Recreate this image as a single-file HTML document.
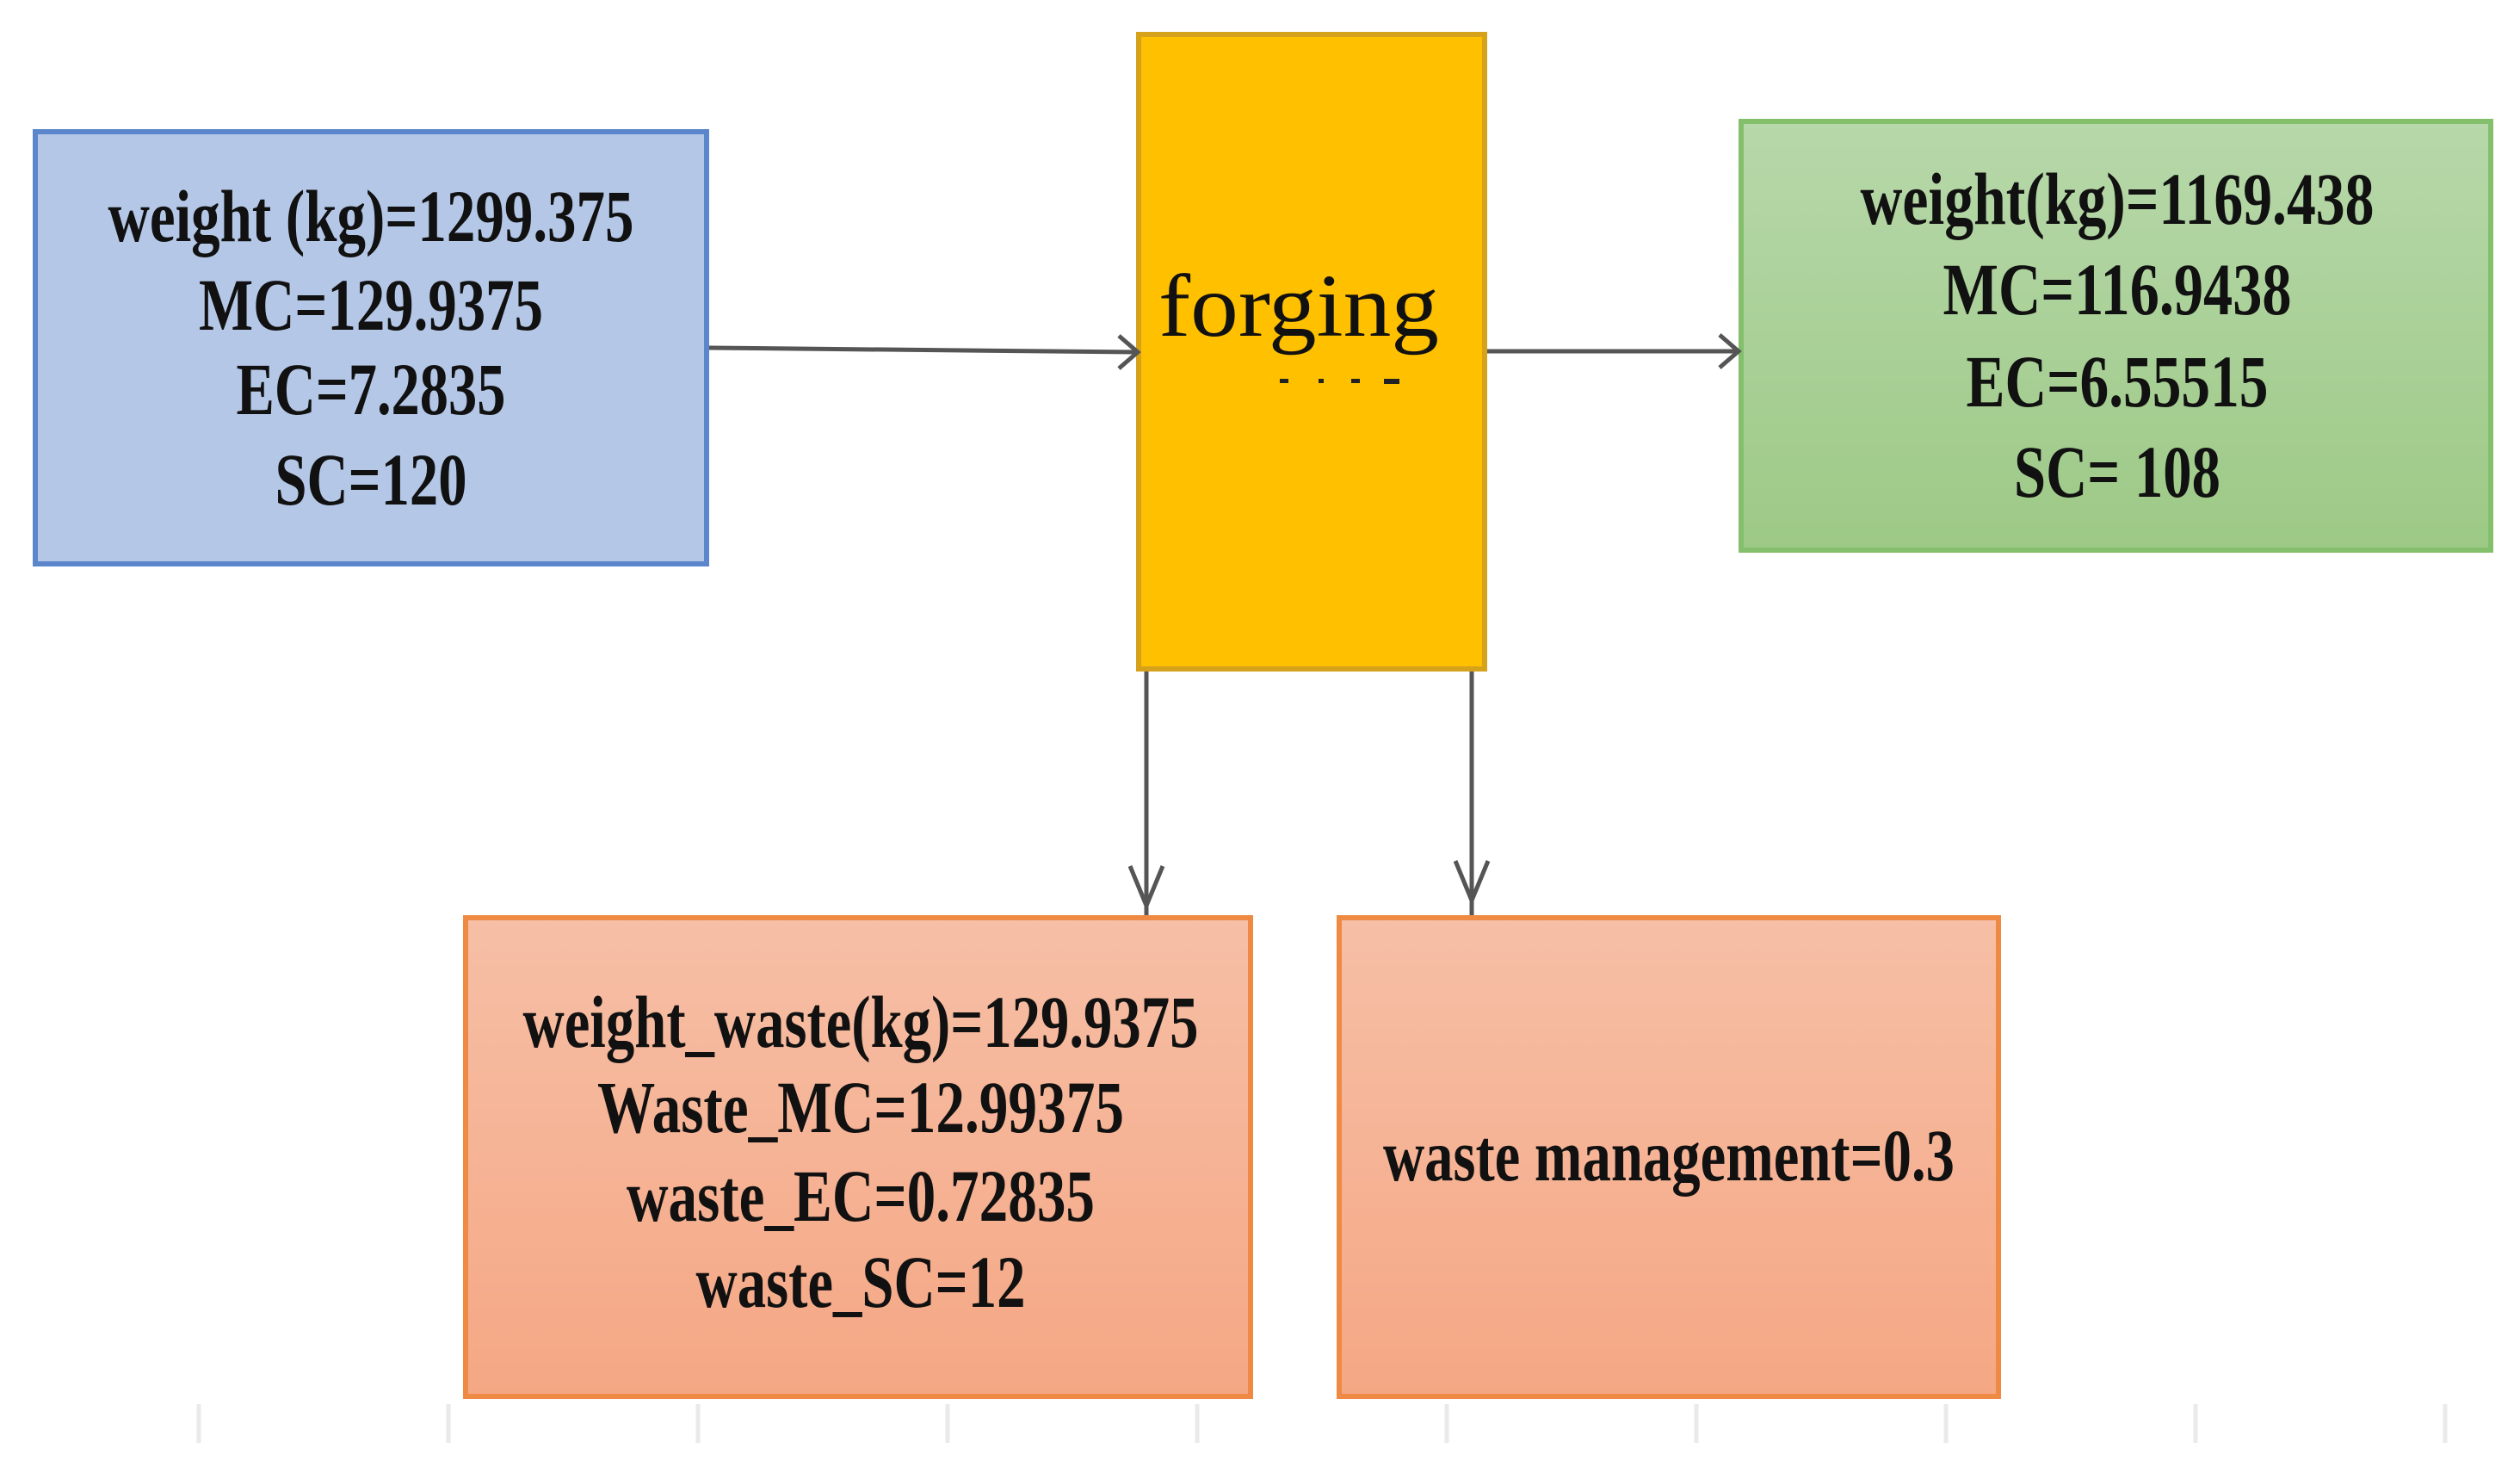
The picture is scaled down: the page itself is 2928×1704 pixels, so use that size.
<!DOCTYPE html>
<html><head><meta charset="utf-8"><style>
html,body{margin:0;padding:0;background:#fff;}
svg{display:block}
</style></head><body>
<svg width="2928" height="1704" viewBox="0 0 2928 1704" xmlns="http://www.w3.org/2000/svg">
<defs>
<linearGradient id="g" x1="0" y1="0" x2="0" y2="1"><stop offset="0" stop-color="#b7d8aa"/><stop offset="1" stop-color="#9dc986"/></linearGradient>
<linearGradient id="s" x1="0" y1="0" x2="0" y2="1"><stop offset="0" stop-color="#f6bfa6"/><stop offset="1" stop-color="#f5a784"/></linearGradient>
</defs>
<g stroke="#eaeaea" stroke-width="5">
<line x1="231" y1="1631" x2="231" y2="1676"/><line x1="521" y1="1631" x2="521" y2="1676"/><line x1="811" y1="1631" x2="811" y2="1676"/><line x1="1101" y1="1631" x2="1101" y2="1676"/><line x1="1391" y1="1631" x2="1391" y2="1676"/><line x1="1681" y1="1631" x2="1681" y2="1676"/><line x1="1971" y1="1631" x2="1971" y2="1676"/><line x1="2261" y1="1631" x2="2261" y2="1676"/><line x1="2551" y1="1631" x2="2551" y2="1676"/><line x1="2841" y1="1631" x2="2841" y2="1676"/>
</g>
<rect x="41" y="153" width="780" height="502" fill="#b4c7e7" stroke="#5b86cc" stroke-width="6"/>
<rect x="1323" y="40" width="402" height="737" fill="#ffc000" stroke="#d6a21c" stroke-width="6"/>
<rect x="2023" y="141" width="871" height="498" fill="url(#g)" stroke="#84c06c" stroke-width="6"/>
<rect x="541" y="1066" width="912" height="556" fill="url(#s)" stroke="#ef8a45" stroke-width="6"/>
<rect x="1556" y="1066" width="766" height="556" fill="url(#s)" stroke="#ef8a45" stroke-width="6"/>
<g stroke="#555" stroke-width="5" fill="none">
<line x1="824" y1="404" x2="1322" y2="409"/><polyline points="1300,390 1322,409 1300,428"/>
<line x1="1728" y1="408" x2="2020" y2="408"/><polyline points="1998,389 2020,408 1998,427"/>
<line x1="1332" y1="780" x2="1332" y2="1063"/><polyline points="1313,1006 1332,1052 1351,1006"/>
<line x1="1710" y1="780" x2="1710" y2="1063"/><polyline points="1691,1000 1710,1046 1729,1000"/>
</g>
<g font-family="Liberation Serif, serif" font-weight="bold" font-size="86" fill="#111" text-anchor="middle">
<text x="431" y="280" textLength="611" lengthAdjust="spacingAndGlyphs">weight (kg)=1299.375</text>
<text x="431" y="383" textLength="400" lengthAdjust="spacingAndGlyphs">MC=129.9375</text>
<text x="431" y="481" textLength="313" lengthAdjust="spacingAndGlyphs">EC=7.2835</text>
<text x="431" y="586" textLength="223" lengthAdjust="spacingAndGlyphs">SC=120</text>
<text x="2460" y="260" textLength="597" lengthAdjust="spacingAndGlyphs">weight(kg)=1169.438</text>
<text x="2460" y="365" textLength="405" lengthAdjust="spacingAndGlyphs">MC=116.9438</text>
<text x="2460" y="472" textLength="351" lengthAdjust="spacingAndGlyphs">EC=6.55515</text>
<text x="2460" y="577" textLength="240" lengthAdjust="spacingAndGlyphs">SC= 108</text>
<text x="1000" y="1216" textLength="785" lengthAdjust="spacingAndGlyphs">weight_waste(kg)=129.9375</text>
<text x="1000" y="1315" textLength="612" lengthAdjust="spacingAndGlyphs">Waste_MC=12.99375</text>
<text x="1000" y="1418" textLength="544" lengthAdjust="spacingAndGlyphs">waste_EC=0.72835</text>
<text x="1000" y="1518" textLength="383" lengthAdjust="spacingAndGlyphs">waste_SC=12</text>
<text x="1939" y="1371" textLength="664" lengthAdjust="spacingAndGlyphs">waste management=0.3</text>
</g>
<text x="1346" y="390" font-family="Liberation Serif, serif" font-size="104" fill="#111" textLength="326" lengthAdjust="spacingAndGlyphs">forging</text>
<g fill="#222"><rect x="1487" y="440" width="10" height="5"/><rect x="1532" y="440" width="6" height="5"/><rect x="1570" y="440" width="10" height="5"/><rect x="1608" y="440" width="18" height="6"/></g>
</svg>
</body></html>
